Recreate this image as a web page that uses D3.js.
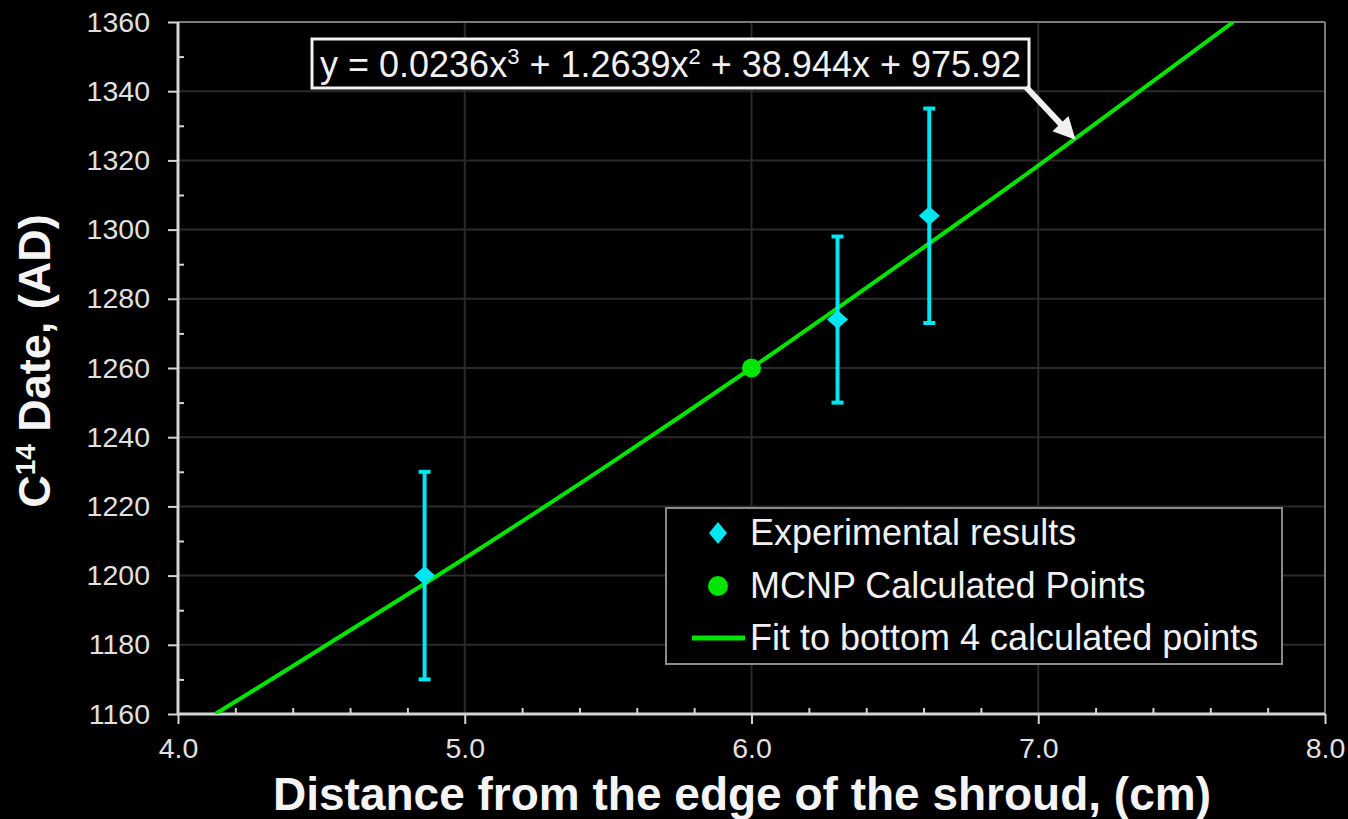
<!DOCTYPE html>
<html>
<head>
<meta charset="utf-8">
<script src="https://cdn.jsdelivr.net/npm/d3@7"></script>
<style>
  html, body { margin: 0; padding: 0; background: #000; }
  svg { display: block; }
  text { font-family: "Liberation Sans", Arial, sans-serif; }
</style>
</head>
<body>
<svg id="chart" width="1348" height="819"></svg>
<script>
// ---------- data ----------
const expX    = [4.86, 6.30, 6.62];
const expY    = [1200, 1274, 1304];
const expLow  = [1170, 1250, 1273];
const expHigh = [1230, 1298, 1335];

const mcnpX = [6.0];
const mcnpY = [1260];

const fitX = [4.13, 4.5, 5.0, 5.5, 6.0, 6.5, 7.0, 7.5, 7.68];
const fitY = [1160, 1179, 1205, 1232, 1260, 1289, 1318.5, 1349, 1360];

const xTicks = [4.0, 5.0, 6.0, 7.0, 8.0];
const xMinorTicks = [4.2,4.4,4.6,4.8,5.2,5.4,5.6,5.8,6.2,6.4,6.6,6.8,7.2,7.4,7.6,7.8];
const yTicks = [1160,1180,1200,1220,1240,1260,1280,1300,1320,1340,1360];
const yMinorTicks = [1170,1190,1210,1230,1250,1270,1290,1310,1330,1350];

const legendLabels = ["Experimental results", "MCNP Calculated Points", "Fit to bottom 4 calculated points"];
const equationParts = [["y = 0.0236x", false], ["3", true], [" + 1.2639x", false], ["2", true], [" + 38.944x + 975.92", false]];
const arrowTip = [7.13, 1326];

// ---------- layout ----------
const svg = d3.select("#chart");
const L = 178, R = 1325, T = 22, B = 714;
const x = d3.scaleLinear().domain([4, 8]).range([L, R]);
const y = d3.scaleLinear().domain([1160, 1360]).range([B, T]);

const cyan = "#00e6f0";
const green = "#00e600";
const axisCol = "#d4d4d4";
const gridCol = "#2a2a2a";
const frameCol = "#7a7a7a";

function diamondPath(hw, hh) {
  return `M0,${-hh} L${hw},0 L0,${hh} L${-hw},0 Z`;
}

svg.append("rect").attr("width", 1348).attr("height", 819).attr("fill", "#000");

// gridlines
const grid = svg.append("g");
grid.selectAll("line.h").data(yTicks.slice(1, -1)).join("line")
  .attr("x1", L).attr("x2", R).attr("y1", d => y(d)).attr("y2", d => y(d))
  .attr("stroke", gridCol).attr("stroke-width", 2);
grid.selectAll("line.v").data(xTicks.slice(1, -1)).join("line")
  .attr("y1", T).attr("y2", B).attr("x1", d => x(d)).attr("x2", d => x(d))
  .attr("stroke", gridCol).attr("stroke-width", 2);

// frame top / right
svg.append("line").attr("x1", L).attr("x2", R).attr("y1", T).attr("y2", T)
  .attr("stroke", frameCol).attr("stroke-width", 2);
svg.append("line").attr("x1", R).attr("x2", R).attr("y1", T).attr("y2", B)
  .attr("stroke", frameCol).attr("stroke-width", 2);

// axes
function styleAxis(g) {
  g.selectAll(".domain").remove();
  g.selectAll(".tick line").attr("stroke", axisCol).attr("stroke-width", 2);
  g.selectAll(".tick text").attr("fill", "#e0e0e0")
    .style("font-family", '"Liberation Sans", Arial, sans-serif').style("font-size", "28.5px");
}
const yAxis = svg.append("g").attr("transform", `translate(${L},0)`)
  .call(d3.axisLeft(y).tickValues(yTicks).tickSize(10).tickPadding(18).tickFormat(d3.format("d")));
styleAxis(yAxis);
const yMinor = svg.append("g").attr("transform", `translate(${L},0)`)
  .call(d3.axisLeft(y).tickValues(yMinorTicks).tickSize(-6).tickFormat(""));
styleAxis(yMinor);

const xAxis = svg.append("g").attr("transform", `translate(0,${B})`)
  .call(d3.axisBottom(x).tickValues(xTicks).tickSize(10).tickPadding(14).tickFormat(d3.format(".1f")));
styleAxis(xAxis);
const xMinor = svg.append("g").attr("transform", `translate(0,${B})`)
  .call(d3.axisBottom(x).tickValues(xMinorTicks).tickSize(-6).tickFormat(""));
styleAxis(xMinor);

svg.append("line").attr("x1", L).attr("x2", L).attr("y1", T).attr("y2", B)
  .attr("stroke", axisCol).attr("stroke-width", 3);
svg.append("line").attr("x1", L).attr("x2", R).attr("y1", B).attr("y2", B)
  .attr("stroke", axisCol).attr("stroke-width", 3);

// fit line
svg.append("defs").append("clipPath").attr("id", "clip")
  .append("rect").attr("x", L).attr("y", T).attr("width", R - L).attr("height", B - T);
const fitData = fitX.map((d, i) => [d, fitY[i]]);
svg.append("path").datum(fitData)
  .attr("clip-path", "url(#clip)")
  .attr("d", d3.line().x(d => x(d[0])).y(d => y(d[1])).curve(d3.curveCatmullRom))
  .attr("fill", "none").attr("stroke", green).attr("stroke-width", 4);

// MCNP points
svg.selectAll("circle.mcnp").data(mcnpX).join("circle")
  .attr("cx", d => x(d)).attr("cy", (d, i) => y(mcnpY[i])).attr("r", 9.5).attr("fill", green);

// error bars
const eb = svg.append("g");
expX.forEach((xv, i) => {
  eb.append("line").attr("x1", x(xv)).attr("x2", x(xv)).attr("y1", y(expLow[i])).attr("y2", y(expHigh[i]))
    .attr("stroke", cyan).attr("stroke-width", 4);
  [expLow[i], expHigh[i]].forEach(v => {
    eb.append("line").attr("x1", x(xv) - 6).attr("x2", x(xv) + 6).attr("y1", y(v)).attr("y2", y(v))
      .attr("stroke", cyan).attr("stroke-width", 4);
  });
});
svg.selectAll("path.exp").data(expX).join("path")
  .attr("d", diamondPath(10.5, 9.5))
  .attr("transform", (d, i) => `translate(${x(d)},${y(expY[i])})`)
  .attr("fill", cyan);

// equation box
const eqG = svg.append("g");
eqG.append("rect").attr("x", 312).attr("y", 39).attr("width", 717).attr("height", 49)
  .attr("fill", "#000").attr("stroke", "#f0f0f0").attr("stroke-width", 3);
const eqText = eqG.append("text").attr("x", 320).attr("y", 77).attr("fill", "#f0f0f0")
  .style("font-size", "36px");
equationParts.forEach(([s, sup]) => {
  if (sup) eqText.append("tspan").attr("dy", -13).style("font-size", "22px").text(s);
  else {
    const t = eqText.append("tspan").text(s);
    if (eqText.selectAll("tspan").size() > 1) t.attr("dy", 13);
  }
});

// arrow
const sx = 1026, sy = 87;
const tx = x(arrowTip[0]), ty = y(arrowTip[1]);
const dx = tx - sx, dy = ty - sy, len = Math.hypot(dx, dy);
const ux = dx / len, uy = dy / len, px = -uy, py = ux;
const headL = 22, headW = 11;
const bx = tx - ux * headL, by = ty - uy * headL;
svg.append("line").attr("x1", sx).attr("y1", sy).attr("x2", bx + ux * 2).attr("y2", by + uy * 2)
  .attr("stroke", "#f0f0f0").attr("stroke-width", 6);
svg.append("path")
  .attr("d", `M${tx},${ty} L${bx + px * headW},${by + py * headW} L${bx - px * headW},${by - py * headW} Z`)
  .attr("fill", "#f0f0f0");

// legend
const lg = svg.append("g");
lg.append("rect").attr("x", 666).attr("y", 508).attr("width", 616).attr("height", 156)
  .attr("fill", "#000").attr("stroke", "#8a8a8a").attr("stroke-width", 2);
const rows = [533, 586, 638];
lg.append("path").attr("d", diamondPath(9, 11))
  .attr("transform", `translate(718,${rows[0]})`).attr("fill", cyan);
lg.append("circle").attr("cx", 718).attr("cy", rows[1]).attr("r", 10).attr("fill", green);
lg.append("line").attr("x1", 692).attr("x2", 745).attr("y1", rows[2]).attr("y2", rows[2])
  .attr("stroke", green).attr("stroke-width", 5);
lg.selectAll("text").data(legendLabels).join("text")
  .attr("x", 750).attr("y", (d, i) => rows[i] + 12)
  .attr("fill", "#f0f0f0").style("font-size", "36px").text(d => d);

// axis titles
svg.append("text").attr("x", 742).attr("y", 810).attr("text-anchor", "middle")
  .attr("fill", "#f4f4f4").style("font-size", "46px").style("font-weight", "bold")
  .text("Distance from the edge of the shroud, (cm)");

const yl = svg.append("text").attr("transform", "translate(50,361) rotate(-90)")
  .attr("text-anchor", "middle").attr("fill", "#f4f4f4")
  .style("font-size", "45px").style("font-weight", "bold");
yl.append("tspan").text("C");
yl.append("tspan").attr("dy", -15).style("font-size", "28px").text("14");
yl.append("tspan").attr("dy", 15).text(" Date, (AD)");
</script>
</body>
</html>
